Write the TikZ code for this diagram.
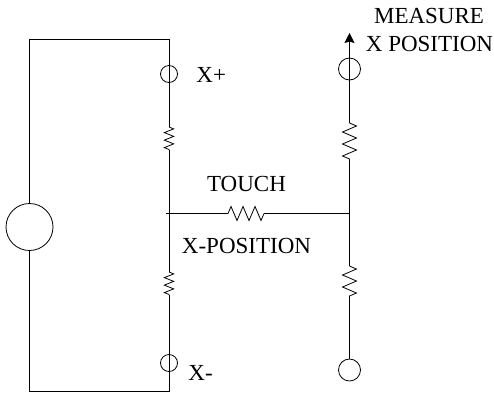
\documentclass[tikz,border=0pt]{standalone}
\usepackage{fontspec}
\setmainfont{Liberation Serif}
\usetikzlibrary{decorations.pathmorphing,arrows.meta}
\begin{document}
\begin{tikzpicture}[x=1pt, y=-1pt, line width=0.8pt, source/.style={draw,circle,inner sep=0pt,minimum size=47pt}, probe/.style={draw,circle,inner sep=0pt,minimum size=22pt}, terminal/.style={draw,circle,inner sep=0pt,minimum size=17pt}, caption/.style={inner sep=0pt,font=\fontsize{23}{27}\selectfont}, resistor/.style={decorate,decoration={zigzag,amplitude=4.7pt,segment length=7.5pt}}, bigresistor/.style={decorate,decoration={zigzag,amplitude=7pt,segment length=12pt}}]
\useasboundingbox (0,0) rectangle (494,392);

\node[source] (vsource) at (29.5, 227) {};
\node[terminal] (xplus) at (169, 74) {};
\node[terminal] (xminus) at (169, 363) {};
\node[probe] (measure) at (349.5, 69) {};
\node[probe] (bottom) at (349.5, 370) {};

\coordinate (topleft) at (29.5, 39);
\coordinate (topright) at (169, 39);
\coordinate (botleft) at (29.5, 391);
\coordinate (botright) at (169, 391);
\coordinate (touchleft) at (166, 213.5);
\coordinate (sense) at (349.5, 213.5);
\coordinate (arrowtip) at (349.5, 33);
\coordinate (upstart) at (169, 127);
\coordinate (upend) at (169, 150);
\coordinate (lowstart) at (169, 272);
\coordinate (lowend) at (169, 295);
\coordinate (touchstart) at (228, 213.5);
\coordinate (touchend) at (264, 213.5);
\coordinate (rupstart) at (349.5, 123);
\coordinate (rupend) at (349.5, 160);
\coordinate (rlowstart) at (349.5, 266);
\coordinate (rlowend) at (349.5, 301);

\node[caption] (measurelabel) at (429, 16) {MEASURE};
\node[caption] (xposlabel) at (429.5, 44) {X POSITION};
\node[caption,anchor=west] (xpluslabel) at (196, 75) {X+};
\node[caption,anchor=west] (xminuslabel) at (188, 373) {X-};
\node[caption] (touchlabel) at (246.5, 184) {TOUCH};
\node[caption] (positionlabel) at (246.5, 246) {X-POSITION};

\draw (vsource) -- (topleft) -- (topright) -- (upstart);
\draw (vsource) -- (botleft) -- (botright) -- (lowend);
\draw [resistor] (upstart) -- (upend);
\draw (upend) -- (lowstart);
\draw [resistor] (lowstart) -- (lowend);
\draw (touchleft) -- (touchstart);
\draw [bigresistor] (touchstart) -- (touchend);
\draw (touchend) -- (sense);
\draw [-{Stealth[inset=1.5pt,length=10pt,width=10pt]}] (rupstart) -- (arrowtip);
\draw [bigresistor] (rupstart) -- (rupend);
\draw (rupend) -- (rlowstart);
\draw [bigresistor] (rlowstart) -- (rlowend);
\draw (rlowend) -- (bottom);

\end{tikzpicture}
\end{document}
